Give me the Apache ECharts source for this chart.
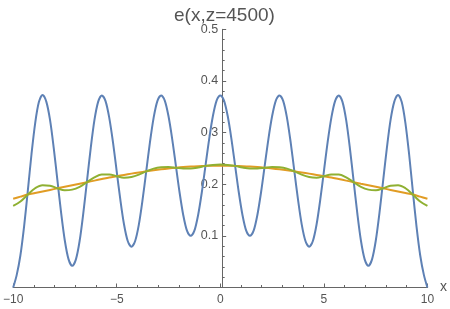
<!DOCTYPE html>
<html><head><meta charset="utf-8">
<script src="https://cdn.jsdelivr.net/npm/echarts@6/dist/echarts.min.js"></script>
<style>html,body{margin:0;padding:0;background:#fff}#c{width:450px;height:309px}</style>
</head><body><div id="c"></div>
<script>
// x positions for the blue curve
const xsBlue = [-10,-9.831,-9.6525,-9.474,-9.295,-9.116,-8.9375,-8.759,-8.58,-8.401,-8.2225,-8.044,-7.865,-7.686,-7.5075,-7.329,-7.15,-6.971,-6.7925,-6.614,-6.435,-6.256,-6.0775,-5.899,-5.72,-5.541,-5.3625,-5.184,-5.005,-4.826,-4.6475,-4.469,-4.29,-4.111,-3.9325,-3.754,-3.575,-3.396,-3.2175,-3.039,-2.86,-2.681,-2.5025,-2.324,-2.145,-1.966,-1.7875,-1.609,-1.43,-1.251,-1.0725,-0.894,-0.715,-0.536,-0.3575,-0.179,
  0,
  0.179,0.3575,0.536,0.715,0.894,1.0725,1.251,1.43,1.609,1.7875,1.966,2.145,2.324,2.5025,2.681,2.86,3.039,3.2175,3.396,3.575,3.754,3.9325,4.111,4.29,4.469,4.6475,4.826,5.005,5.184,5.3625,5.541,5.72,5.899,6.0775,6.256,6.435,6.614,6.7925,6.971,7.15,7.329,7.5075,7.686,7.865,8.044,8.2225,8.401,8.58,8.759,8.9375,9.116,9.295,9.474,9.6525,9.831,10];
const blue = [0,.024,.062,.118,.1865,.258,.3185,.359,.373,.360,.325,.271,.208,.145,.091,.055,.042,.0545,.090,.144,.207,.270,.324,.3595,.372,.361,.329,.282,.226,.170,.122,.090,.079,.0901,.1218,.1695,.2255,.2815,.329,.361,.372,.362,.332,.288,.236,.184,.140,.110,.100,.110,.140,.184,.236,.288,.332,.362,
  .372,
  .362,.332,.288,.236,.184,.140,.110,.100,.110,.140,.184,.236,.288,.332,.362,.372,.361,.329,.2815,.2255,.1695,.1218,.0901,.079,.090,.122,.170,.226,.282,.329,.361,.372,.3595,.324,.270,.207,.144,.090,.0545,.042,.055,.091,.145,.208,.271,.325,.360,.373,.359,.3185,.258,.1865,.118,.062,.024,0];
// x positions for the orange and green curves
const xs = [-10,-9.65,-9.295,-8.94,-8.58,-8.22,-7.865,-7.51,-7.15,-6.79,-6.435,-6.08,-5.72,-5.36,-5.0,-4.65,-4.29,-3.93,-3.575,-3.22,-2.86,-2.5,-2.145,-1.79,-1.43,-1.07,-0.715,-0.36,
  0,
  0.36,0.715,1.07,1.43,1.79,2.145,2.5,2.86,3.22,3.575,3.93,4.29,4.65,5.0,5.36,5.72,6.08,6.435,6.79,7.15,7.51,7.865,8.22,8.58,8.94,9.295,9.65,10];
const orange = [.172,.176,.180,.183,.186,.189,.192,.195,.198,.201,.204,.207,.210,.213,.2155,.218,.2205,.2228,.225,.227,.2288,.2305,.232,.2333,.2343,.235,.2355,.2359,
  .236,
  .2359,.2355,.235,.2343,.2333,.232,.2305,.2288,.227,.225,.2228,.2205,.218,.2155,.213,.210,.207,.204,.201,.198,.195,.192,.189,.186,.183,.180,.176,.172];
const green = [.158,.1665,.180,.1922,.198,.1971,.192,.1882,.1895,.195,.204,.2132,.219,.219,.2155,.2127,.214,.2186,.225,.2302,.2328,.2333,.232,.2305,.2303,.2322,.2355,.2373,
  .238,
  .2373,.2355,.2322,.2303,.2305,.232,.2333,.2328,.2302,.225,.2186,.214,.2127,.2155,.219,.219,.2132,.204,.195,.1895,.1882,.192,.1971,.198,.1922,.180,.1665,.158];
const xTicks = [-10,-5,0,5,10];
const yTicks = [0.1,0.2,0.3,0.4,0.5];
const titleText = 'e(x,z=4500)';
const xName = 'x';

const pts = (xarr, arr) => xarr.map((x,i)=>[x,arr[i]]);
const font = "'Liberation Sans', Arial, sans-serif";
const axisCol = '#666';
const lblCol = '#555';
const chart = echarts.init(document.getElementById('c'), null, {renderer:'canvas'});
const mk = (name, data, color, sm) => ({name, type:'line', data:data, showSymbol:false, smooth:sm,
  lineStyle:{color, width:2}, itemStyle:{color}, clip:true, animation:false});
const gridLeft = 12, gridRight = 20, W = 450;
const plotW = W - gridLeft - gridRight;
chart.setOption({
  animation:false,
  title:{text:titleText, left:169, top:1, textStyle:{fontFamily:font, fontSize:19, fontWeight:'normal', color:'#555'}},
  grid:{left:gridLeft, right:gridRight, top:29.3, bottom:21.5, containLabel:false},
  xAxis:{type:'value', min:-10, max:10, interval:5, name:xName, nameLocation:'end', nameGap:6,
    nameTextStyle:{fontFamily:font, fontSize:14, color:lblCol, verticalAlign:'middle', padding:[4,0,0,0]},
    axisLine:{onZero:false, lineStyle:{color:axisCol, width:1}},
    axisTick:{inside:true, length:4, lineStyle:{color:axisCol}},
    minorTick:{show:true, splitNumber:5, length:2.5, lineStyle:{color:axisCol}},
    splitLine:{show:false},
    axisLabel:{fontFamily:font, fontSize:12, color:lblCol, margin:6,
      formatter:v=> xTicks.includes(v) ? String(v).replace('-','\u2212') : ''}},
  yAxis:{type:'value', min:0, max:0.5, interval:0.1, position:'left', offset:-plotW/2,
    axisLine:{show:true, onZero:false, lineStyle:{color:axisCol, width:1}},
    axisTick:{inside:true, length:4, lineStyle:{color:axisCol}},
    minorTick:{show:true, splitNumber:5, length:2.5, lineStyle:{color:axisCol}},
    splitLine:{show:false},
    axisLabel:{fontFamily:font, fontSize:12.5, color:lblCol, margin:4,
      formatter:v=>{const r=Math.round(v*10)/10; return yTicks.includes(r)?r.toFixed(1):'';}}},
  series:[mk('b',pts(xsBlue,blue),'#5E81B5',0.3), mk('o',pts(xs,orange),'#E19C24',0.35), mk('g',pts(xs,green),'#8FB032',0.35)]
});
</script></body></html>
